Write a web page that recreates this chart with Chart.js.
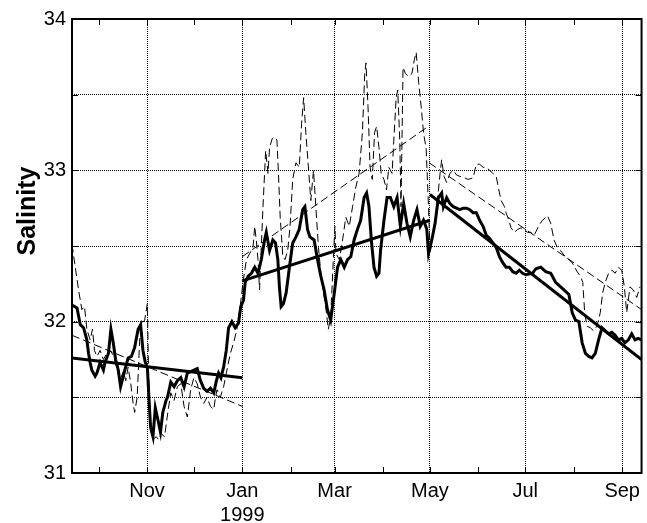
<!DOCTYPE html>
<html>
<head>
<meta charset="utf-8">
<script src="https://cdn.jsdelivr.net/npm/chart.js@4.4.1/dist/chart.umd.min.js"></script>
<style>
  html, body { margin: 0; padding: 0; background: #fff; }
  canvas { display: block; }
</style>
</head>
<body>
<canvas id="chart" width="647" height="523"></canvas>
<script>
// days counted from 1 Jan 1999
const monthDays = [-92, -61, -31, 0, 31, 59, 90, 120, 151, 181, 212, 243];
const monthLabels = ['', 'Nov', '', ['Jan', '1999'], '', 'Mar', '', 'May', '', 'Jul', '', 'Sep'];
const salTicks = [31, 31.5, 32, 32.5, 33, 33.5, 34];
const salLabels = ['31', '', '32', '', '33', '', '34'];

// thick solid record
const thickDays = [-109, -105.8, -103.7, -101.6, -99.5, -98.4, -97.4, -96.3, -94.2, -93.1, -91, -88.9, -87.9, -85.7, -84.1, -82.6, -81.1, -79.4, -77.9, -76.9, -75.2, -73.1, -71, -68.9, -66.7, -65.1, -63.6, -62.1, -60.8, -59.7, -58.7, -57.2, -55.7, -54, -52.4, -50.9, -48.8, -47.9, -45.8, -43.7, -41.6, -39.4, -37.3, -35.2, -33.1, -31, -28.9, -26.8, -24.7, -22.6, -20.4, -18.3, -16.6, -15.2, -13.7, -12, -10.3, -8.8, -6.7, -4.6, -2.5, -1, 0.7, 1.8, 3.7, 5.8, 7.9, 10, 12.1, 14.2, 15.3, 17.4, 19.5, 21.2, 22.7, 23.7, 24.8, 26.3, 28, 30.1, 32.2, 34.3, 36.4, 38.6, 40, 41.7, 43.2, 45.9, 48.1, 50.2, 52.3, 54.4, 56.5, 58.7, 60.9, 63, 65.2, 67.3, 69.4, 71.5, 73.6, 75.7, 77.9, 79.5, 81, 82.5, 84.2, 85.9, 87.4, 88.4, 90.6, 92.6, 94.7, 96.9, 99, 101.1, 103.2, 105.3, 107.4, 109.6, 111.7, 113.8, 115.9, 118, 119.1, 121.2, 123.3, 125.4, 127.5, 128.6, 130.7, 132.8, 134.9, 137, 139.1, 141.3, 143.4, 145.5, 147.6, 149.7, 151.8, 154, 156.1, 158.2, 160.3, 162.4, 164.5, 166.6, 168.7, 170.8, 173, 175.1, 177.2, 179.3, 181.4, 185.7, 187.8, 190.9, 194.1, 197.3, 200.4, 203.6, 206.8, 208.9, 211, 213.1, 215.3, 217.4, 219.5, 221.6, 223.7, 225.8, 227.9, 230.1, 232.2, 234.3, 236.4, 238.5, 240.6, 242.7, 244.8, 247, 249.1, 251.2, 253.3, 255.4];
const thickSal = [32.11, 32.09, 31.98, 31.96, 31.88, 31.79, 31.73, 31.68, 31.64, 31.66, 31.73, 31.68, 31.73, 31.79, 31.95, 31.86, 31.75, 31.68, 31.57, 31.61, 31.68, 31.76, 31.77, 31.83, 31.95, 31.98, 31.81, 31.73, 31.70, 31.48, 31.30, 31.24, 31.43, 31.35, 31.27, 31.40, 31.48, 31.50, 31.60, 31.57, 31.61, 31.63, 31.57, 31.66, 31.67, 31.68, 31.69, 31.61, 31.56, 31.54, 31.56, 31.53, 31.61, 31.66, 31.63, 31.70, 31.81, 31.96, 32.00, 31.96, 31.99, 32.10, 32.14, 32.26, 32.30, 32.32, 32.36, 32.32, 32.41, 32.54, 32.59, 32.47, 32.54, 32.52, 32.41, 32.23, 32.10, 32.12, 32.19, 32.36, 32.52, 32.56, 32.61, 32.74, 32.76, 32.61, 32.56, 32.54, 32.41, 32.30, 32.21, 32.08, 32.01, 32.18, 32.36, 32.41, 32.36, 32.41, 32.43, 32.54, 32.61, 32.67, 32.82, 32.85, 32.76, 32.54, 32.36, 32.30, 32.32, 32.47, 32.67, 32.82, 32.82, 32.76, 32.82, 32.63, 32.78, 32.65, 32.56, 32.67, 32.74, 32.63, 32.67, 32.61, 32.45, 32.54, 32.65, 32.82, 32.85, 32.76, 32.82, 32.78, 32.76, 32.75, 32.74, 32.75, 32.75, 32.74, 32.72, 32.72, 32.67, 32.63, 32.57, 32.55, 32.52, 32.49, 32.43, 32.39, 32.36, 32.36, 32.33, 32.32, 32.34, 32.32, 32.31, 32.32, 32.35, 32.36, 32.33, 32.32, 32.26, 32.23, 32.20, 32.18, 32.06, 32.01, 32.00, 31.86, 31.79, 31.77, 31.76, 31.79, 31.88, 31.96, 31.94, 31.92, 31.93, 31.91, 31.88, 31.89, 31.86, 31.88, 31.92, 31.88, 31.89, 31.88];

// thin dashed record
const dashDays = [-109, -106.9, -104.8, -102.7, -101, -99.5, -97.4, -95.9, -94.6, -93.1, -91, -88.9, -86.8, -84.7, -82.6, -80.5, -78.4, -76.2, -74.6, -73.1, -71.4, -69.9, -68.9, -67.3, -65.7, -64.2, -62.5, -60.8, -60, -58.7, -57.2, -55.1, -53.6, -51.9, -49.8, -47.7, -45.8, -43.7, -41.6, -39.4, -37.3, -35.2, -33.1, -31, -28.9, -26.8, -24.7, -22.6, -20.4, -18.3, -17.2, -16.2, -14.1, -12, -9.9, -7.7, -5.6, -3.5, -1.4, -0.4, 0.7, 2.6, 4.7, 6.8, 7.9, 8.9, 10, 11, 12.1, 13.2, 14.9, 16.4, 17.4, 19.1, 20.6, 22.1, 23.1, 24.2, 25.9, 27.3, 29, 30.5, 32.2, 34.3, 36.4, 37.9, 39.2, 40.6, 42.4, 43.8, 45.5, 47, 48.7, 50.2, 51.9, 53.3, 55, 56.5, 58.2, 59.2, 59.9, 62, 64.1, 66.2, 68.4, 70.5, 72.6, 74.7, 76.8, 78.3, 79.1, 80.4, 81.7, 83.1, 84.6, 85.9, 87.4, 88.8, 90.6, 92.2, 93.7, 95.8, 96.9, 98.4, 99.4, 100.7, 101.5, 102.8, 104.3, 106.4, 108.5, 110, 111.2, 112.8, 114.4, 115.9, 117.6, 119.1, 120.1, 122.3, 124.4, 126.5, 127.5, 129, 130.7, 132.8, 134.9, 137, 139.1, 142.3, 144.4, 147.6, 149.7, 151.8, 154, 156.1, 158.2, 160.3, 162.4, 164.1, 165.6, 167.7, 168.7, 170.5, 171.9, 174, 176.2, 178.3, 180.4, 182.5, 184.6, 186.7, 189.9, 192, 195.2, 197.3, 199.4, 201.5, 203.6, 205.7, 207.9, 211, 214.2, 216.3, 217.8, 219, 220.5, 222.6, 224.7, 226.9, 229, 230.5, 232.2, 234.3, 236.4, 238.5, 240.6, 242.7, 244.4, 245.9, 248, 250.1, 252.3, 254.4];
const dashSal = [32.51, 32.36, 32.21, 32.08, 32.10, 31.95, 31.88, 31.95, 31.81, 31.77, 31.81, 31.75, 31.79, 31.81, 31.78, 31.70, 31.61, 31.67, 31.61, 31.70, 31.59, 31.46, 31.40, 31.50, 31.88, 31.99, 32.01, 32.12, 31.66, 31.28, 31.22, 31.24, 31.22, 31.26, 31.24, 31.40, 31.53, 31.48, 31.57, 31.59, 31.44, 31.37, 31.55, 31.63, 31.59, 31.50, 31.46, 31.50, 31.44, 31.42, 31.50, 31.55, 31.50, 31.57, 31.68, 31.79, 31.86, 31.95, 32.10, 32.19, 32.28, 32.41, 32.45, 32.49, 32.63, 32.54, 32.41, 32.21, 32.49, 32.76, 33.13, 32.98, 33.15, 33.21, 33.22, 33.20, 32.98, 32.69, 32.43, 32.41, 32.47, 32.63, 32.94, 33.05, 33.02, 33.31, 33.48, 33.25, 33.00, 32.80, 33.00, 32.76, 32.49, 32.32, 32.19, 32.10, 31.95, 32.03, 32.41, 32.63, 32.45, 32.41, 32.54, 32.69, 32.63, 32.76, 32.89, 32.98, 33.25, 33.64, 33.71, 33.42, 33.02, 32.94, 33.25, 33.29, 33.15, 32.98, 32.94, 32.87, 33.02, 32.98, 33.20, 33.48, 33.53, 33.20, 32.76, 33.68, 33.64, 33.62, 33.64, 33.73, 33.78, 33.58, 33.42, 33.25, 33.14, 32.76, 32.45, 32.61, 32.76, 32.98, 33.07, 32.96, 32.92, 32.98, 33.00, 32.97, 32.96, 32.95, 32.94, 32.95, 33.04, 33.04, 33.02, 33.02, 33.00, 32.98, 32.96, 32.87, 32.80, 32.76, 32.72, 32.67, 32.62, 32.59, 32.61, 32.62, 32.61, 32.59, 32.59, 32.57, 32.64, 32.67, 32.70, 32.65, 32.54, 32.49, 32.47, 32.44, 32.42, 32.39, 32.33, 32.30, 32.26, 32.06, 31.97, 31.96, 31.94, 31.97, 32.06, 32.19, 32.26, 32.32, 32.34, 32.32, 32.36, 32.34, 32.23, 32.06, 32.23, 32.21, 32.16, 32.23];

// fitted trends, one pair of end points per period
const thickTrendDays = [[-109, 0], [0, 120], [120, 255.4]];
const thickTrendSal = [[31.76, 31.63], [32.27, 32.67], [32.84, 31.75]];
const dashTrendDays = [[-109, 0], [0, 117.5], [119.5, 255.4]];
const dashTrendSal = [[31.91, 31.44], [32.43, 33.28], [33.05, 32.08]];

const FONT = '"Liberation Sans", Arial, Helvetica, sans-serif';

function pts(xs, ys) {
  return xs.map((d, i) => ({ x: d, y: ys[i] }));
}

const datasets = [];
datasets.push({ data: pts(dashDays, dashSal), borderColor: '#000', borderWidth: 1, borderDash: [8, 4] });
datasets.push({ data: pts(thickDays, thickSal), borderColor: '#000', borderWidth: 3 });
thickTrendDays.forEach((seg, i) => {
  datasets.push({ data: pts(seg, thickTrendSal[i]), borderColor: '#000', borderWidth: 3 });
});
dashTrendDays.forEach((seg, i) => {
  datasets.push({ data: pts(seg, dashTrendSal[i]), borderColor: '#000', borderWidth: 1, borderDash: [8, 4] });
});

// MATLAB style box, inward ticks and y label
const frame = {
  id: 'frame',
  afterDatasetsDraw(chart) {
    const { ctx, chartArea: a, scales: { x, y } } = chart;
    ctx.save();
    ctx.strokeStyle = '#000';
    ctx.lineWidth = 1;
    ctx.beginPath();
    monthDays.forEach(d => {
      const px = Math.round(x.getPixelForValue(d)) + 0.5;
      ctx.moveTo(px, a.bottom); ctx.lineTo(px, a.bottom - 6);
      ctx.moveTo(px, a.top); ctx.lineTo(px, a.top + 6);
    });
    salTicks.forEach(v => {
      const py = Math.round(y.getPixelForValue(v)) + 0.5;
      ctx.moveTo(a.left, py); ctx.lineTo(a.left + 6, py);
      ctx.moveTo(a.right, py); ctx.lineTo(a.right - 6, py);
    });
    ctx.stroke();
    ctx.lineWidth = 2;
    ctx.strokeRect(a.left, a.top, a.right - a.left, a.bottom - a.top);
    ctx.fillStyle = '#000';
    ctx.font = 'bold 25px ' + FONT;
    ctx.translate(28, 211);
    ctx.rotate(-Math.PI / 2);
    ctx.textAlign = 'center';
    ctx.textBaseline = 'middle';
    ctx.fillText('Salinity', 0, 0);
    ctx.restore();
  }
};

new Chart(document.getElementById('chart'), {
  type: 'line',
  data: { datasets },
  options: {
    responsive: false,
    animation: false,
    devicePixelRatio: 1,
    parsing: false,
    elements: { point: { radius: 0 }, line: { tension: 0, fill: false } },
    layout: { padding: { top: 19, right: 1, bottom: 0, left: 0 } },
    plugins: { legend: { display: false }, tooltip: { enabled: false } },
    scales: {
      x: {
        type: 'linear',
        min: -109,
        max: 255.4,
        afterBuildTicks: s => { s.ticks = monthDays.map(v => ({ value: v })); },
        afterFit: s => { s.height = 50; },
        ticks: {
          autoSkip: false,
          maxRotation: 0,
          padding: 7,
          color: '#000',
          font: { family: FONT, size: 20, lineHeight: 1.17 },
          callback: (v, i) => monthLabels[i]
        },
        grid: {
          drawTicks: false,
          lineWidth: 1,
          color: c => monthLabels[c.index] === '' ? 'rgba(0,0,0,0)' : '#000'
        },
        border: { display: false, dash: [1, 1] }
      },
      y: {
        type: 'linear',
        min: 31,
        max: 34,
        afterBuildTicks: s => { s.ticks = salTicks.map(v => ({ value: v })); },
        afterFit: s => { s.width = 72; },
        ticks: {
          padding: 6,
          color: '#000',
          font: { family: FONT, size: 20 },
          callback: (v, i) => salLabels[i]
        },
        grid: { drawTicks: false, lineWidth: 1, color: '#000' },
        border: { display: false, dash: [1, 1] }
      }
    }
  },
  plugins: [frame]
});
</script>
</body>
</html>
